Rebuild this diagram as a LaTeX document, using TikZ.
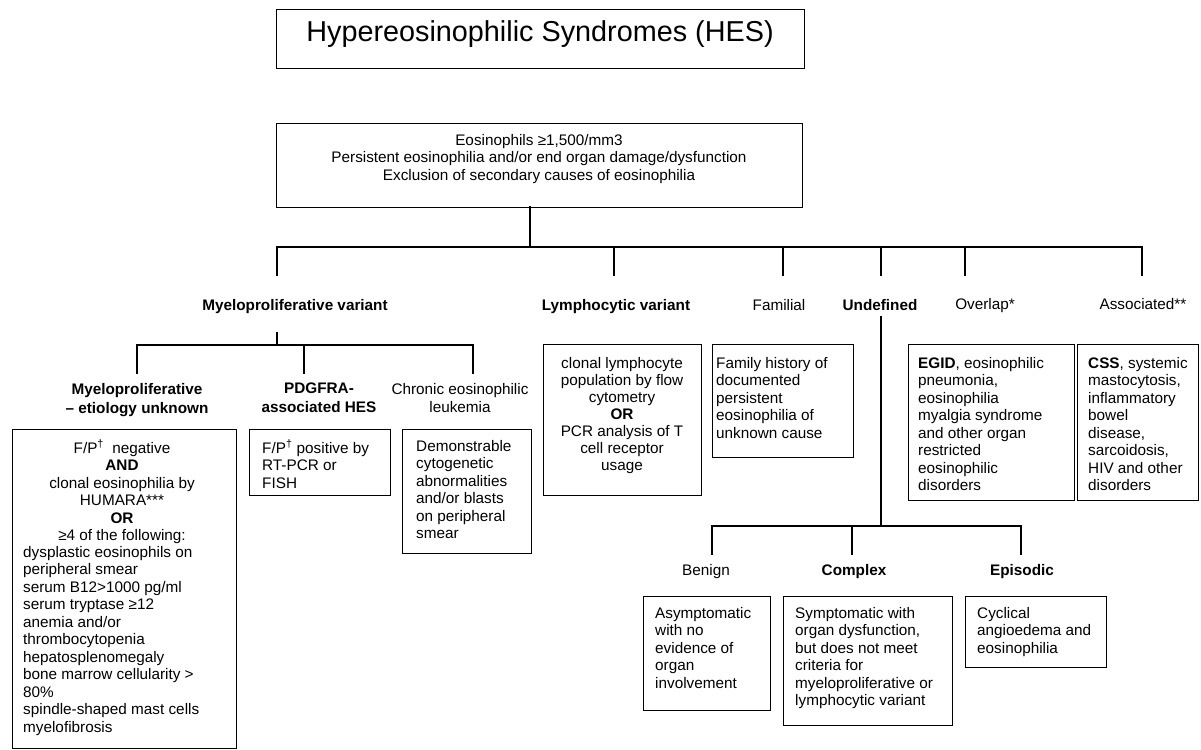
\documentclass[tikz,border=0pt]{standalone}
\usepackage{fontspec}
\setmainfont{Liberation Sans}
\begin{document}
\begin{tikzpicture}[x=1pt,y=-1pt,
  frame/.style={draw,line width=1.2pt,inner sep=0pt,anchor=north west},
  txt/.style={inner sep=0pt,font=\fontsize{15.3}{17.5}\selectfont},
  ctxt/.style={txt,align=center,anchor=north},
  ltxt/.style={txt,align=left,anchor=north west},
  lbl/.style={txt,anchor=base},
  conn/.style={line width=1.2pt,line cap=rect}]
\useasboundingbox (0,0) rectangle (1201,749);

% ---------- boxes ----------
\node[frame,minimum width=528,minimum height=59] (title) at (276,9) {};
\node[frame,minimum width=526,minimum height=84] (crit) at (276,123) {};
\node[frame,minimum width=224,minimum height=319] (mpubox) at (12,429) {};
\node[frame,minimum width=141,minimum height=66] (pdgbox) at (249,429) {};
\node[frame,minimum width=129,minimum height=124] (celbox) at (402,429) {};
\node[frame,minimum width=158,minimum height=151] (lymbox) at (543,344) {};
\node[frame,minimum width=141,minimum height=113] (fambox) at (712,344) {};
\node[frame,minimum width=166,minimum height=156] (ovlbox) at (908,344) {};
\node[frame,minimum width=121,minimum height=156] (assbox) at (1077,344) {};
\node[frame,minimum width=127,minimum height=114] (benbox) at (643,596) {};
\node[frame,minimum width=169,minimum height=129] (cpxbox) at (783,596) {};
\node[frame,minimum width=141,minimum height=71] (epibox) at (965,596) {};

% ---------- title and criteria ----------
\node[inner sep=0pt,anchor=base,font=\fontsize{28.8}{34}\selectfont] (titletext) at (540,42) {Hypereosinophilic Syndromes (HES)};
\node[ctxt] (crittext) at (539,134) {Eosinophils ≥1,500/mm3\\Persistent eosinophilia and/or end organ damage/dysfunction\\Exclusion of secondary causes of eosinophilia};

% ---------- level 1 labels ----------
\node[lbl,font=\fontsize{15.3}{17.5}\selectfont\bfseries] (myelovar) at (295,310.5) {Myeloproliferative variant};
\node[lbl,font=\fontsize{15.3}{17.5}\selectfont\bfseries] (lymvar) at (616,310.5) {Lymphocytic variant};
\node[lbl] (familial) at (779,310.5) {Familial};
\node[lbl,font=\fontsize{15.3}{17.5}\selectfont\bfseries] (undef) at (880,310.5) {Undefined};
\node[lbl] (overlap) at (985,309) {Overlap*};
\node[lbl] (assoc) at (1143,309) {Associated**};

% ---------- level 2 labels ----------
\node[ctxt,font=\fontsize{15.3}{19}\selectfont\bfseries] (mpulbl) at (137,383) {Myeloproliferative\\– etiology unknown};
\node[ctxt,font=\fontsize{15.3}{19}\selectfont\bfseries] (pdglbl) at (319,383) {PDGFRA-\\associated HES};
\node[ctxt,font=\fontsize{15.3}{18.5}\selectfont] (cellbl) at (460,383) {Chronic eosinophilic\\leukemia};

% ---------- level 3 labels ----------
\node[lbl] (benign) at (706,575.5) {Benign};
\node[lbl,font=\fontsize{15.3}{17.5}\selectfont\bfseries] (complex) at (854,575.5) {Complex};
\node[lbl,font=\fontsize{15.3}{17.5}\selectfont\bfseries] (episodic) at (1022,575.5) {Episodic};

% ---------- box texts ----------
\node[ctxt] (mputexta) at (122,440) {F/P\textsuperscript{†}\ \ negative\\\textbf{AND}\\clonal eosinophilia by\\HUMARA***\\\textbf{OR}\\≥4 of the following:};
\node[ltxt] (mputextb) at (23,546) {dysplastic eosinophils on\\peripheral smear\\serum B12>1000 pg/ml\\serum tryptase ≥12\\anemia and/or\\thrombocytopenia\\hepatosplenomegaly\\bone marrow cellularity >\\80\%\\spindle-shaped mast cells\\myelofibrosis};
\node[ltxt] (pdgtext) at (262,440) {F/P\textsuperscript{†} positive by\\RT-PCR or\\FISH};
\node[ltxt] (celtext) at (416,440) {Demonstrable\\cytogenetic\\abnormalities\\and/or blasts\\on peripheral\\smear};
\node[ctxt,font=\fontsize{15.3}{17}\selectfont] (lymtext) at (622,357) {clonal lymphocyte\\population by flow\\cytometry\\\textbf{OR}\\PCR analysis of T\\cell receptor\\usage};
\node[ltxt] (famtext) at (716,357) {Family history of\\documented\\persistent\\eosinophilia of\\unknown cause};
\node[ltxt] (ovltext) at (918,357) {\textbf{EGID}, eosinophilic\\pneumonia,\\eosinophilia\\myalgia syndrome\\and other organ\\restricted\\eosinophilic\\disorders};
\node[ltxt] (asstext) at (1088,357) {\textbf{CSS}, systemic\\mastocytosis,\\inflammatory\\bowel\\disease,\\sarcoidosis,\\HIV and other\\disorders};
\node[ltxt] (bentext) at (655,607) {Asymptomatic\\with no\\evidence of\\organ\\involvement};
\node[ltxt] (cpxtext) at (795,607) {Symptomatic with\\organ dysfunction,\\but does not meet\\criteria for\\myeloproliferative or\\lymphocytic variant};
\node[ltxt] (epitext) at (977,607) {Cyclical\\angioedema and\\eosinophilia};

% ---------- connectors ----------
\coordinate (critout) at (530,207);
\coordinate (bus1) at (530,247);
\draw[conn] (critout) -- (bus1);
\foreach \n/\x in {myelo/277, lym/614, fam/783, und/881, ovl/965, ass/1142}{
  \coordinate (d1\n) at (\x,247);
  \coordinate (e1\n) at (\x,275);
  \draw[conn] (d1\n) -- (e1\n);
}
\draw[conn] (d1myelo) -- (d1ass);

% myeloproliferative branch
\coordinate (m2top) at (277,333);
\coordinate (m2bus) at (277,345);
\draw[conn] (m2top) -- (m2bus);
\foreach \n/\x in {mpu/137, pdg/304, cel/473}{
  \coordinate (d2\n) at (\x,345);
  \coordinate (e2\n) at (\x,373);
  \draw[conn] (d2\n) -- (e2\n);
}
\draw[conn] (d2mpu) -- (d2cel);

% undefined branch
\coordinate (u3top) at (881,317);
\coordinate (u3bus) at (881,526);
\draw[conn] (u3top) -- (u3bus);
\foreach \n/\x in {ben/712, cpx/852, epi/1021}{
  \coordinate (d3\n) at (\x,526);
  \coordinate (e3\n) at (\x,554);
  \draw[conn] (d3\n) -- (e3\n);
}
\draw[conn] (d3ben) -- (d3epi);
\end{tikzpicture}
\end{document}
